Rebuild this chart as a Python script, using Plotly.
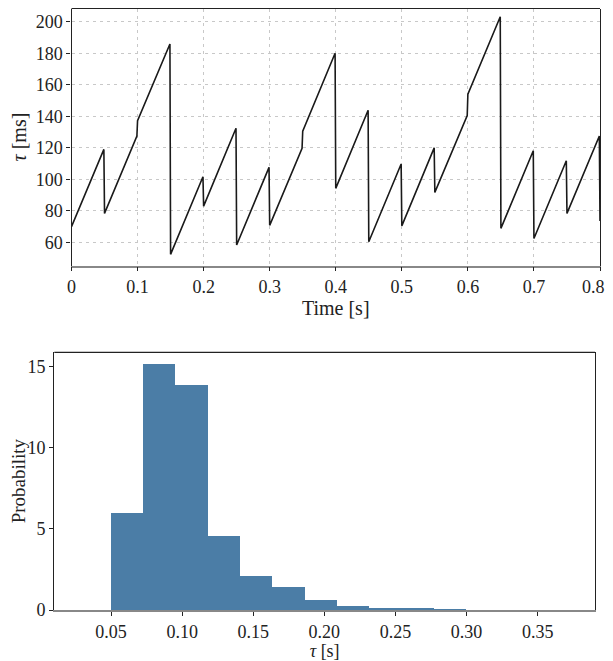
import plotly.graph_objects as go

# ---------------- data: top panel (tau vs time) ----------------
seg_start_time = [0.00, 0.05, 0.10, 0.15, 0.20, 0.25, 0.30, 0.35,
                  0.40, 0.45, 0.50, 0.55, 0.60, 0.65, 0.70, 0.75]
seg_end_time = [0.049, 0.099, 0.149, 0.199, 0.249, 0.299, 0.349, 0.399,
                0.449, 0.499, 0.549, 0.599, 0.649, 0.699, 0.749, 0.799]
seg_start_tau = [70.0, 78.4, 137.2, 52.4, 83.0, 58.3, 70.8, 130.6,
                 94.3, 60.4, 70.5, 91.7, 154.1, 68.9, 62.5, 78.4]
seg_end_tau = [119.0, 127.5, 185.9, 101.6, 132.4, 107.6, 119.7, 180.0,
               143.8, 109.7, 120.0, 140.4, 203.2, 118.1, 111.8, 127.5]
final_time = 0.8
final_tau = 73.5

time_ticks = [0, 0.1, 0.2, 0.3, 0.4, 0.5, 0.6, 0.7, 0.8]
# trailing no-break spaces keep the last label inside the visible page
time_tick_text = ["0", "0.1", "0.2", "0.3", "0.4", "0.5", "0.6", "0.7",
                  "0.8\u00a0\u00a0\u00a0"]
tau_ticks = [60, 80, 100, 120, 140, 160, 180, 200]

# ---------------- data: bottom panel (histogram of tau) ----------------
bin_left = [0.0500, 0.0727, 0.0955, 0.1182, 0.1409, 0.1636,
            0.1864, 0.2091, 0.2318, 0.2546, 0.2773]
bin_width = 0.02273
density = [5.96, 15.17, 13.87, 4.56, 2.10, 1.42, 0.62, 0.25, 0.12, 0.06, 0.03]
hist_x_ticks = [0.05, 0.10, 0.15, 0.20, 0.25, 0.30, 0.35]
hist_y_ticks = [0, 5, 10, 15]

# build line vertices
line_t, line_tau = [], []
for ts, te, vs, ve in zip(seg_start_time, seg_end_time, seg_start_tau, seg_end_tau):
    line_t += [ts, te]
    line_tau += [vs, ve]
line_t.append(final_time)
line_tau.append(final_tau)

bin_centers = [b + bin_width / 2 for b in bin_left]

# page has an 8px body margin
OFF = 8
W, H = 613 - 2 * OFF, 661 - OFF
FONT = "Liberation Serif, serif"
TXT = "#222222"

fig = go.Figure()
fig.add_trace(go.Scatter(x=line_t, y=line_tau, mode="lines",
                         line=dict(color="#1a1a1a", width=1.6),
                         xaxis="x", yaxis="y", showlegend=False))
fig.add_trace(go.Bar(x=bin_centers, y=density, width=[bin_width] * len(density),
                     marker=dict(color="#4b7da6", line=dict(width=0)),
                     xaxis="x2", yaxis="y2", showlegend=False))

def px_x(p):
    return min(1.0, max(0.0, (p - OFF) / W))

def px_y(p):
    return min(1.0, max(0.0, 1 - (p - OFF) / H))

tickfont = dict(family=FONT, size=18, color=TXT)
titlefont = dict(family=FONT, size=20, color=TXT)

common = dict(ticks="outside", ticklen=4, tickcolor="#222", tickwidth=1,
              zeroline=False, tickfont=tickfont, automargin=False,
              ticklabeloverflow="allow")

fig.update_layout(
    width=W, height=H,
    margin=dict(l=0, r=0, t=0, b=0, autoexpand=False),
    font=dict(family=FONT, size=18, color=TXT),
    paper_bgcolor="white", plot_bgcolor="white",
    bargap=0,
    xaxis=dict(domain=[px_x(71.5), px_x(600)], anchor="y",
               range=[0, 0.8], tickvals=time_ticks, ticktext=time_tick_text,
               showline=True, linecolor="#888888", linewidth=1.5, mirror=False,
               showgrid=True, gridcolor="#c8c8c8", griddash="3px,4px", gridwidth=1,
               title=dict(text="Time [s]", font=titlefont, standoff=4), **common),
    yaxis=dict(domain=[px_y(265.7), px_y(8.5)], anchor="x",
               range=[45.2, 208.4], tickvals=tau_ticks,
               showline=True, linecolor="#222222", linewidth=1.2, mirror=True,
               showgrid=True, gridcolor="#c8c8c8", griddash="3px,4px", gridwidth=1,
               title=dict(text="<i>τ</i> [ms]", font=titlefont, standoff=12), **common),
    xaxis2=dict(domain=[px_x(54.3), px_x(595)], anchor="y2",
                range=[0.0101, 0.3903], tickvals=hist_x_ticks, tickformat=".2f",
                showline=True, linecolor="#888888", linewidth=2, mirror=False,
                layer="below traces", showgrid=False,
                title=dict(text="<i>τ</i> [s]", font=dict(family=FONT, size=18, color=TXT), standoff=2),
                **common),
    yaxis2=dict(domain=[px_y(610), px_y(352.3)], anchor="x2",
                range=[0, 15.89], tickvals=hist_y_ticks,
                showline=True, linecolor="#222222", linewidth=1.2, mirror=True,
                showgrid=False,
                title=dict(text="Probability", font=dict(family=FONT, size=19, color=TXT), standoff=10),
                **common),
    shapes=[
        dict(type="line", xref="x domain", yref="y domain", x0=0, x1=1, y0=1, y1=1,
             line=dict(color="#222222", width=1.2)),
        dict(type="line", xref="x2 domain", yref="y2 domain", x0=0, x1=1, y0=1, y1=1,
             line=dict(color="#222222", width=1.2)),
    ],
)

fig.write_html("out.html")
